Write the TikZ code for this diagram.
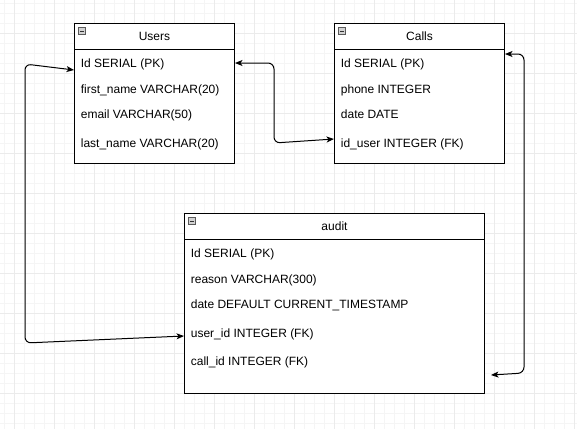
\documentclass[tikz,border=0pt]{standalone}
\usepackage{fontspec}
\setmainfont{Liberation Sans}
\usetikzlibrary{arrows.meta}
\begin{document}
\begin{tikzpicture}[x=1pt,y=-1pt,
  tbl/.style={draw=black,line width=1pt,fill=white,anchor=north west,inner sep=0pt},
  ttl/.style={font=\fontsize{12}{14}\selectfont,inner sep=0pt},
  rowtxt/.style={font=\fontsize{12}{14}\selectfont,inner sep=0pt,anchor=base west},
  icon/.style={draw=gray!70!black,fill=gray!35,line width=0.5pt,minimum size=7pt,inner sep=0pt},
  conn/.style={draw=black,line width=1pt,rounded corners=6pt,
    {Stealth[length=7.5pt,width=6pt,inset=2pt]}-{Stealth[length=7.5pt,width=6pt,inset=2pt]}},
  minorgrid/.style={draw=black!4,line width=0.5pt},
  majorgrid/.style={draw=black!8,line width=0.6pt}]
\useasboundingbox (0,0) rectangle (577,429);
\fill[white] (0,0) rectangle (577,429);
\foreach \x in {4,14,...,574} \draw[minorgrid] (\x,0) -- (\x,429);
\foreach \y in {3,13,...,423} \draw[minorgrid] (0,\y) -- (577,\y);
\foreach \x in {14,54,...,574} \draw[majorgrid] (\x,0) -- (\x,429);
\foreach \y in {33,73,...,393} \draw[majorgrid] (0,\y) -- (577,\y);

% Users
\node[tbl,minimum width=160pt,minimum height=140pt] (users) at (74,23) {};
\draw[line width=1pt] ([yshift=-26pt]users.north west) -- ([yshift=-26pt]users.north east);
\node[icon] (usersicon) at ([xshift=8pt,yshift=-8pt]users.north west) {};
\draw[line width=0.8pt,black!80] ([xshift=-2pt]usersicon.center) -- ([xshift=2pt]usersicon.center);
\node[ttl] (userst) at ([yshift=-13.5pt]users.north) {Users};
\node[rowtxt] (u1) at (80.7,67.6) {Id SERIAL (PK)};
\node[rowtxt] (u2) at (80.7,93.3) {first\_name VARCHAR(20)};
\node[rowtxt] (u3) at (80.7,118.6) {email VARCHAR(50)};
\node[rowtxt] (u4) at (80.7,147) {last\_name VARCHAR(20)};

% Calls
\node[tbl,minimum width=170pt,minimum height=140pt] (calls) at (334,23) {};
\draw[line width=1pt] ([yshift=-26pt]calls.north west) -- ([yshift=-26pt]calls.north east);
\node[icon] (callsicon) at ([xshift=8pt,yshift=-8pt]calls.north west) {};
\draw[line width=0.8pt,black!80] ([xshift=-2pt]callsicon.center) -- ([xshift=2pt]callsicon.center);
\node[ttl] (callst) at ([yshift=-13.5pt]calls.north) {Calls};
\node[rowtxt] (c1) at (340.7,67.6) {Id SERIAL (PK)};
\node[rowtxt] (c2) at (340.7,93.3) {phone INTEGER};
\node[rowtxt] (c3) at (340.7,118.6) {date DATE};
\node[rowtxt] (c4) at (340.7,147) {id\_user INTEGER (FK)};

% audit
\node[tbl,minimum width=300pt,minimum height=180pt] (audit) at (184,213) {};
\draw[line width=1pt] ([yshift=-26pt]audit.north west) -- ([yshift=-26pt]audit.north east);
\node[icon] (auditicon) at ([xshift=8pt,yshift=-8pt]audit.north west) {};
\draw[line width=0.8pt,black!80] ([xshift=-2pt]auditicon.center) -- ([xshift=2pt]auditicon.center);
\node[ttl] (auditt) at ([yshift=-13.5pt]audit.north) {audit};
\node[rowtxt] (a1) at (190.7,257.6) {Id SERIAL (PK)};
\node[rowtxt] (a2) at (190.7,283.3) {reason VARCHAR(300)};
\node[rowtxt] (a3) at (190.7,308.6) {date DEFAULT CURRENT\_TIMESTAMP};
\node[rowtxt] (a4) at (190.7,337) {user\_id INTEGER (FK)};
\node[rowtxt] (a5) at (190.7,365) {call\_id INTEGER (FK)};

% connectors
\coordinate (k1a) at (274,63);
\coordinate (k1b) at (274,143);
\draw[conn] (users.east |- 0,63) -- (k1a) -- (k1b) -- (calls.west |- 0,139);

\coordinate (k2a) at (25,64);
\coordinate (k2b) at (25,343);
\draw[conn] (users.west |- 0,70) -- (k2a) -- (k2b) -- (audit.west |- 0,336);

\coordinate (k3a) at (524,54);
\coordinate (k3b) at (524,373);
\coordinate (k3end) at (491,375);
\draw[conn] (calls.east |- 0,54) -- (k3a) -- (k3b) -- (k3end);
\end{tikzpicture}
\end{document}
